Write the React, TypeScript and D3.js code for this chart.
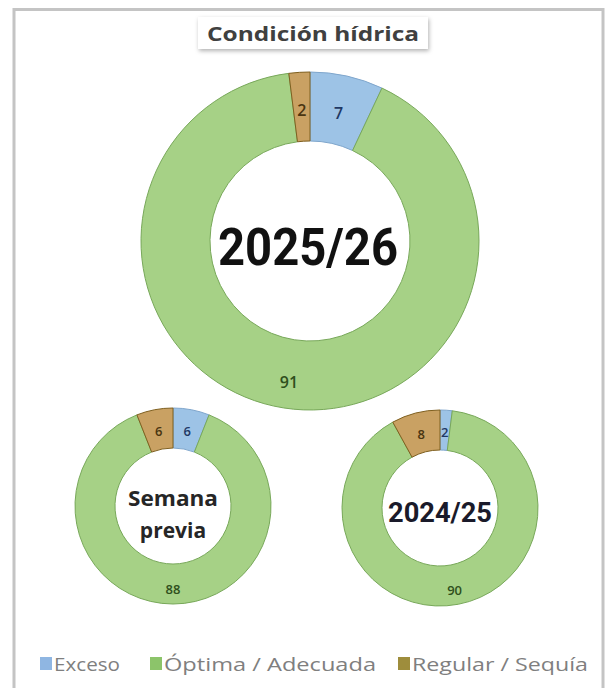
import React from "react";
import * as d3 from "d3";

const categories = ["Exceso", "Óptima / Adecuada", "Regular / Sequía"];
const current2025 = [7, 91, 2];
const previousWeek = [6, 88, 6];
const season2024 = [2, 90, 8];
const chartTitle = "Condición hídrica";

const fills = ["#9dc3e6", "#a6d186", "#c9a163"];
const strokes = ["#7fa6cc", "#78a85a", "#7f6020"];
const labelColors = ["#1f3864", "#2f4f1c", "#4a3510"];
const legendColors = ["#8fb6e2", "#8cc46a", "#9e8d3c"];

type DonutProps = {
  values: number[];
  cx: number;
  cy: number;
  outer: number;
  inner: number;
  fontSize: number;
};

function Donut({ values, cx, cy, outer, inner, fontSize }: DonutProps) {
  const pie = d3
    .pie<number>()
    .sort(null)
    .value((d) => d);
  const arcs = pie(values);
  const arc = d3.arc<d3.PieArcDatum<number>>().innerRadius(inner).outerRadius(outer);
  const labelArc = d3
    .arc<d3.PieArcDatum<number>>()
    .innerRadius(inner + (outer - inner) * 0.45)
    .outerRadius(inner + (outer - inner) * 0.45);
  return (
    <g transform={`translate(${cx},${cy})`}>
      {arcs.map((a, i) => (
        <path key={i} d={arc(a) || ""} fill={fills[i]} stroke={strokes[i]} strokeWidth={1} />
      ))}
      {arcs.map((a, i) => {
        const [x, y] = (i === 1 ? arc : labelArc).centroid(a);
        return (
          <text
            key={"t" + i}
            x={x}
            y={i === 1 ? y + outer * 0.05 : y}
            textAnchor="middle"
            dominantBaseline="central"
            fontFamily="'Open Sans', sans-serif"
            fontWeight={600}
            fontSize={fontSize}
            fill={labelColors[i]}
          >
            {values[i]}
          </text>
        );
      })}
    </g>
  );
}

export default function App() {
  const W = 607;
  const H = 688;
  const legendItems = [
    { x: 40, tx: 54, w: 66 },
    { x: 150, tx: 164, w: 212 },
    { x: 398, tx: 412, w: 176 },
  ];
  return (
    <svg
      width={W}
      height={H}
      style={{ position: "absolute", left: 0, top: 0, background: "#ffffff" }}
    >
      <defs>
        <filter id="sh" x="-10%" y="-30%" width="130%" height="180%">
          <feDropShadow dx="1" dy="2" stdDeviation="2" floodColor="#000" floodOpacity="0.3" />
        </filter>
      </defs>
      <rect x={14} y={9.5} width={589} height={690} fill="#ffffff" stroke="#c4c4c4" strokeWidth={3} />

      <Donut values={current2025} cx={310} cy={241} outer={169} inner={100} fontSize={16} />
      <Donut values={previousWeek} cx={173} cy={506} outer={98} inner={58} fontSize={13} />
      <Donut values={season2024} cx={440} cy={508} outer={98} inner={58} fontSize={13} />

      <text
        x={308}
        y={247}
        textAnchor="middle"
        dominantBaseline="central"
        fontFamily="Roboto, sans-serif"
        fontWeight="bold"
        fontSize={52}
        fill="#111"
        textLength={180}
        lengthAdjust="spacingAndGlyphs"
      >
        2025/26
      </text>
      <text x={173} y={498} textAnchor="middle" dominantBaseline="central" fontFamily="'Open Sans', sans-serif" fontWeight="bold" fontSize={21} fill="#262626" textLength={90} lengthAdjust="spacingAndGlyphs">
        Semana
      </text>
      <text x={173} y={530} textAnchor="middle" dominantBaseline="central" fontFamily="'Open Sans', sans-serif" fontWeight="bold" fontSize={21} fill="#262626">
        previa
      </text>
      <text x={440} y={512} textAnchor="middle" dominantBaseline="central" fontFamily="Roboto, sans-serif" fontWeight="bold" fontSize={28} fill="#1a1a2a" textLength={104} lengthAdjust="spacingAndGlyphs">
        2024/25
      </text>

      <rect x={198} y={17} width={230} height={32} fill="#ffffff" filter="url(#sh)" />
      <text x={313} y={33} textAnchor="middle" dominantBaseline="central" fontFamily="'Open Sans', sans-serif" fontWeight="bold" fontSize={20} fill="#404040" textLength={212} lengthAdjust="spacingAndGlyphs">
        {chartTitle}
      </text>

      {categories.map((c, i) => (
        <g key={c}>
          <rect x={legendItems[i].x} y={657} width={12} height={13} fill={legendColors[i]} />
          <text
            x={legendItems[i].tx}
            y={664}
            dominantBaseline="central"
            fontFamily="'Open Sans', sans-serif"
            fontSize={18}
            fill="#7f7f7f"
            textLength={legendItems[i].w}
            lengthAdjust="spacingAndGlyphs"
          >
            {c}
          </text>
        </g>
      ))}
    </svg>
  );
}
